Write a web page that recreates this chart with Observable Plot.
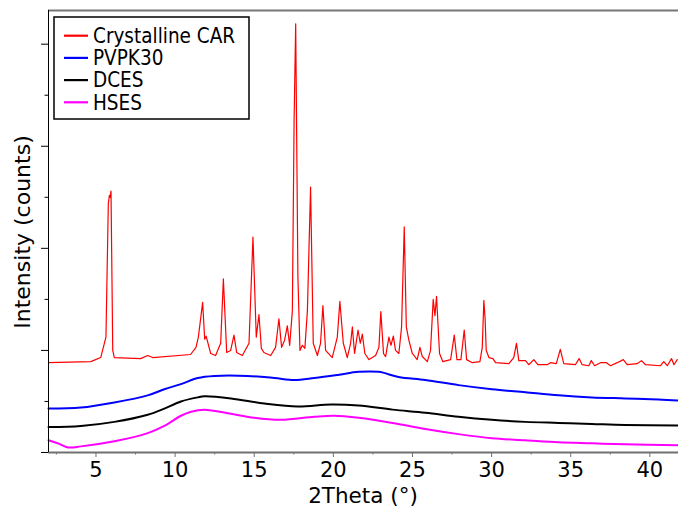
<!DOCTYPE html>
<html>
<head>
<meta charset="utf-8">
<script src="https://cdn.jsdelivr.net/npm/d3@7"></script>
<script src="https://cdn.jsdelivr.net/npm/@observablehq/plot@0.6"></script>
<style>
  html, body { margin: 0; padding: 0; background: #fff; }
  #chart svg { display: block; }
</style>
</head>
<body>
<div id="chart"></div>
<script>
// ---- Data (2Theta in degrees, intensity in counts) ----
const carTheta = [2.00,4.67,5.30,5.63,5.78,5.85,5.89,5.95,6.06,6.16,7.82,8.27,8.58,10.98,11.32,11.47,11.74,11.87,11.96,12.25,12.56,12.88,13.05,13.26,13.51,13.72,13.89,14.25,14.67,14.92,15.13,15.30,15.45,15.61,16.04,16.35,16.56,16.73,16.92,17.09,17.24,17.41,17.52,17.62,17.76,17.89,18.04,18.20,18.36,18.56,18.73,18.99,19.19,19.34,19.51,19.93,20.25,20.41,20.63,20.88,21.09,21.20,21.34,21.56,21.70,21.83,21.99,22.25,22.67,22.88,23.00,23.17,23.30,23.51,23.64,23.79,23.93,24.14,24.31,24.48,24.61,24.77,24.99,25.30,25.47,25.62,25.94,26.14,26.31,26.42,26.52,26.71,26.92,27.41,27.64,27.81,28.06,28.27,28.42,28.78,29.26,29.41,29.51,29.59,29.66,29.83,30.08,30.25,31.09,31.40,31.57,31.72,32.14,32.35,32.67,32.92,33.51,33.72,34.09,34.34,34.56,35.29,35.53,35.72,36.14,36.30,36.51,36.88,37.26,37.51,37.94,38.32,38.57,39.20,39.47,39.73,40.67,40.88,41.10,41.37,41.52,41.73];
const carCounts = [880,890,930,1130,2440,2520,2500,2560,1000,930,920,950,930,960,1030,1130,1470,1110,1140,970,950,1070,1700,980,1000,1150,980,950,1070,2110,1130,1350,1020,980,950,1030,1310,1030,1100,1240,1050,1390,3250,4200,1720,1000,1050,1020,1390,2600,1070,950,1070,1440,1000,930,1130,1480,1070,930,1070,1230,970,1200,1070,1160,970,910,950,1030,1380,970,940,1130,1050,1140,1000,970,1230,2210,1230,1100,970,910,1030,940,890,1000,1500,1340,1530,970,890,910,1150,910,910,1200,910,880,890,1030,1490,1310,1000,930,920,880,870,930,1070,900,900,860,910,860,860,880,870,1010,870,860,920,860,850,900,850,880,880,850,880,910,860,870,900,860,850,890,850,920,860,910];

const pvpTheta = [2.00,4.05,6.16,8.27,9.32,10.37,11.43,12.48,14.58,16.27,17.53,18.80,20.27,21.60,22.86,24.12,25.81,27.91,30.02,32.13,34.23,36.33,38.44,40.54,41.81];
const pvpCounts = [430,440,490,560,620,670,730,750,750,730,710,730,760,790,790,740,710,660,620,590,560,540,530,520,510];

const dcesTheta = [2.00,4.05,6.16,8.27,9.32,10.37,11.43,11.85,13.53,15.64,17.74,19.85,21.60,23.74,25.81,27.91,30.02,32.13,34.23,36.33,38.44,41.81];
const dcesCounts = [250,260,300,370,430,500,540,550,530,480,450,470,460,420,390,350,320,300,290,280,270,265];

const hsesTheta = [2.00,2.58,3.22,4.05,6.16,8.27,9.32,10.37,11.01,11.85,13.53,15.00,16.68,18.80,20.06,21.60,23.74,25.81,27.91,30.02,32.13,34.23,36.33,38.44,41.81];
const hsesCounts = [120,90,50,60,110,190,260,360,400,420,380,340,320,350,360,340,290,230,180,140,120,100,90,80,70];

const seriesNames = ["Crystalline CAR", "PVPK30", "DCES", "HSES"];
const seriesColors = ["#ff0000", "#0000ff", "#000000", "#ff00ff"];

const xMajorTicks = [5, 10, 15, 20, 25, 30, 35, 40];
const xMinorTicks = [2.5, 7.5, 12.5, 17.5, 22.5, 27.5, 32.5, 37.5];
const yMajorTicks = [0, 1000, 2000, 3000, 4000];
const yMinorTicks = [500, 1500, 2500, 3500];

const xTitle = "2Theta (°)";
const yTitle = "Intensity (counts)";

// ---- build tables ----
const toRows = (xs, ys) => xs.map((x, i) => ({x, y: ys[i]}));
const car = toRows(carTheta, carCounts);
const pvp = toRows(pvpTheta, pvpCounts);
const dces = toRows(dcesTheta, dcesCounts);
const hses = toRows(hsesTheta, hsesCounts);

const FONT = "'DejaVu Sans', sans-serif";
const FONT_LEG = "'DejaVu Sans Condensed', 'DejaVu Sans', sans-serif";
const W = 678, H = 508, ML = 48, MR = 0, MT = 10, MB = 56;
const xMax = 41.81, yMax = 4330;

const chart = Plot.plot({
  width: W, height: H,
  marginLeft: ML, marginRight: MR, marginTop: MT, marginBottom: MB,
  style: {fontFamily: FONT, fontSize: "21px", background: "#fff", color: "#000"},
  x: {domain: [2, xMax]},
  y: {domain: [0, yMax]},
  marks: [
    Plot.ruleY([yMax], {stroke: "#777", strokeWidth: 2}),
    Plot.line(hses, {x: "x", y: "y", stroke: seriesColors[3], strokeWidth: 2, curve: "catmull-rom"}),
    Plot.line(dces, {x: "x", y: "y", stroke: seriesColors[2], strokeWidth: 2, curve: "catmull-rom"}),
    Plot.line(pvp, {x: "x", y: "y", stroke: seriesColors[1], strokeWidth: 2, curve: "catmull-rom"}),
    Plot.line(car, {x: "x", y: "y", stroke: seriesColors[0], strokeWidth: 1.2}),
    Plot.axisX({ticks: xMajorTicks, tickSize: 5, tickPadding: 5, stroke: "#707070", fill: "#000", label: null, tickFormat: d => String(d)}),
    Plot.axisX({ticks: xMinorTicks, tickSize: 2.5, text: null, label: null, stroke: "#707070"}),
    Plot.axisY({ticks: yMajorTicks, tickSize: 7, text: null, label: null, stroke: "#000"}),
    Plot.axisY({ticks: yMinorTicks, tickSize: 3.5, text: null, label: null, stroke: "#000"}),
    Plot.ruleY([0], {stroke: "#707070", strokeWidth: 2}),
    Plot.ruleX([2], {stroke: "#000", strokeWidth: 1})
  ]
});

document.getElementById("chart").appendChild(chart);

// ---- axis titles and legend ----
const svg = d3.select(chart);
svg.append("text")
  .attr("x", (ML + W - MR) / 2).attr("y", 503)
  .attr("text-anchor", "middle")
  .attr("font-family", FONT).attr("font-size", 21.5).attr("fill", "#000")
  .text(xTitle);
svg.append("text")
  .attr("transform", `translate(30,${(MT + H - MB) / 2 + 1}) rotate(-90)`)
  .attr("text-anchor", "middle")
  .attr("font-family", FONT).attr("font-size", 22).attr("fill", "#000")
  .text(yTitle);

const lg = svg.append("g");
lg.append("rect").attr("x", 54).attr("y", 17).attr("width", 195).attr("height", 102)
  .attr("fill", "#fff").attr("stroke", "#000").attr("stroke-width", 1.5);
seriesNames.forEach((name, i) => {
  const yy = 35.7 + i * 22.2;
  lg.append("line").attr("x1", 64).attr("x2", 88).attr("y1", yy).attr("y2", yy)
    .attr("stroke", seriesColors[i]).attr("stroke-width", 2.2);
  lg.append("text").attr("x", 93).attr("y", yy).attr("dy", "0.36em")
    .attr("text-anchor", "start")
    .attr("font-family", FONT_LEG).attr("font-size", 20.5).attr("fill", "#000")
    .text(name);
});
</script>
</body>
</html>
